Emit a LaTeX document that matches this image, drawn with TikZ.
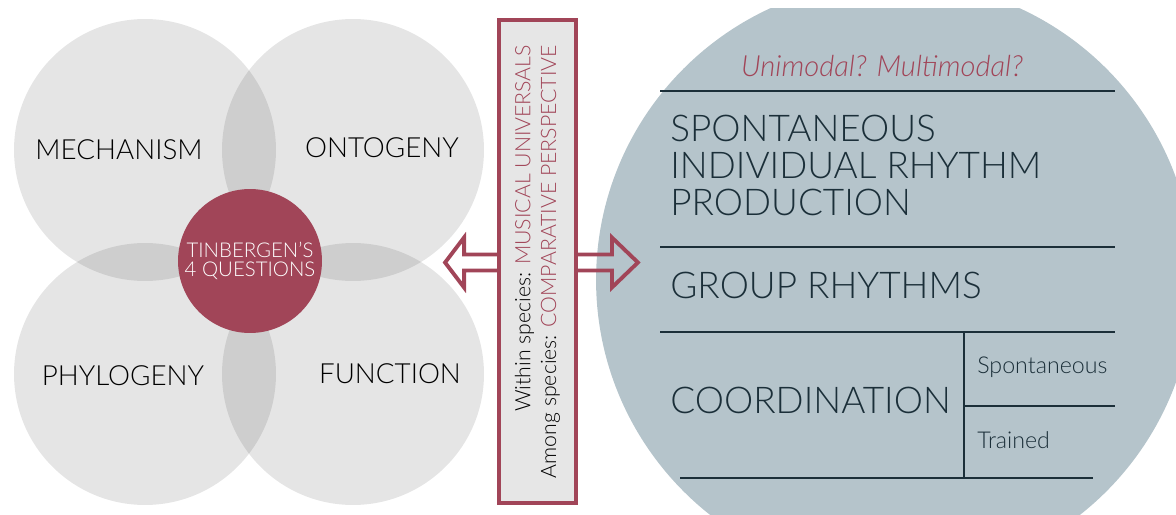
\documentclass[tikz,border=0pt]{standalone}
\usepackage{fontspec}
\setmainfont{Lato}[UprightFont=* Light, ItalicFont=* Light Italic]
\usetikzlibrary{positioning,calc}

\definecolor{wine}{RGB}{161,69,88}
\definecolor{slate}{RGB}{181,196,203}
\definecolor{ink}{RGB}{27,47,57}
\definecolor{panel}{RGB}{230,230,230}

\begin{document}
\begin{tikzpicture}[
        x=0.02cm, y=-0.02cm,
        petal/.style={circle, fill=black, fill opacity=0.1, minimum size=5.24cm, inner sep=0pt},
        hub/.style={circle, fill=wine, minimum size=2.88cm, inner sep=0pt, text=white,
                    align=center, font=\fontsize{11.6}{10.6}\selectfont},
        question/.style={font=\fontsize{15.8}{19}\selectfont, text=black, inner sep=0pt},
        heading/.style={font=\fontsize{21}{21}\selectfont, text=ink, align=left, inner sep=0pt},
        minor/.style={font=\fontsize{13.2}{15}\selectfont, text=ink, inner sep=0pt, anchor=base west},
        rule/.style={draw=ink, line width=1.1pt},
        hollow/.style={draw=wine, line width=2.2pt},
    ]
    \useasboundingbox (0,0) rectangle (1176,514);

    % the four questions
    \node[petal] (mech)  at (145,150) {};
    \node[petal] (onto)  at (353,150) {};
    \node[petal] (phylo) at (145,374) {};
    \node[petal] (func)  at (353,374) {};
    \node[question] (mechtext)  at ($(mech)+(-26,0)$)  {MECHANISM};
    \node[question] (ontotext)  at ($(onto)+(29,-2)$)  {ONTOGENY};
    \node[question] (phylotext) at ($(phylo)+(-22,2)$) {PHYLOGENY};
    \node[question] (functext)  at ($(func)+(37,0)$)   {FUNCTION};
    \node[hub] (hub) at (250,261) {TINBERGEN'S\\4 QUESTIONS};

    % big disc, cut off at top and bottom
    \begin{scope}
        \clip (590,8) rectangle (1176,514);
        \node[circle, fill=slate, minimum size=11.96cm, inner sep=0pt] (stage) at (895,280) {};
    \end{scope}

    % middle bar with the two hollow arrows
    \node[draw=wine, line width=2.2pt, fill=panel, minimum width=1.54cm, minimum height=9.66cm,
          inner sep=0pt] (axis) at (537.5,261.5) {};
    \node[rotate=90, align=right, font=\fontsize{12.1}{14.7}\selectfont] (axistext) at (axis.center)
        {Within species: \textcolor{wine}{MUSICAL UNIVERSALS}\\
         Among species: \textcolor{wine}{COMPARATIVE PERSPECTIVE}};
    \draw[hollow] ($(axis.west)+(0,-7)$) -- ++(-33,0) -- ++(0,-17) -- ++(-19,25)
        -- ++(19,25) -- ++(0,-17) -- ++(33,0);
    \draw[hollow] ($(axis.east)+(0,-7)$) -- ++(34,0) -- ++(0,-17) -- ++(26,25)
        -- ++(-26,25) -- ++(0,-17) -- ++(-34,0);

    % rhythm table
    \node[font=\itshape\fontsize{16.6}{18}\selectfont, text=wine, anchor=base] (modes) at (882,76)
        {Unimodal? Multimodal?};
    \draw[rule] (660,91) -- (1115,91);
    \node[heading, anchor=north west] (solo) at (670,115)
        {SPONTANEOUS\\INDIVIDUAL RHYTHM\\PRODUCTION};
    \draw[rule] (660,247) -- (1115,247);
    \node[heading, anchor=base west] (group) at (670,298) {GROUP RHYTHMS};
    \draw[rule] (660,332) -- (1115,332);
    \node[heading, anchor=base west] (coord) at (670,413) {COORDINATION};
    \draw[rule] (964,332) -- (964,478);
    \node[minor] (spont) at (977,373) {Spontaneous};
    \draw[rule] (964,406) -- (1115,406);
    \node[minor] (trained) at (977,448) {Trained};
    \draw[rule] (680,478) -- (1093,478);
\end{tikzpicture}
\end{document}
